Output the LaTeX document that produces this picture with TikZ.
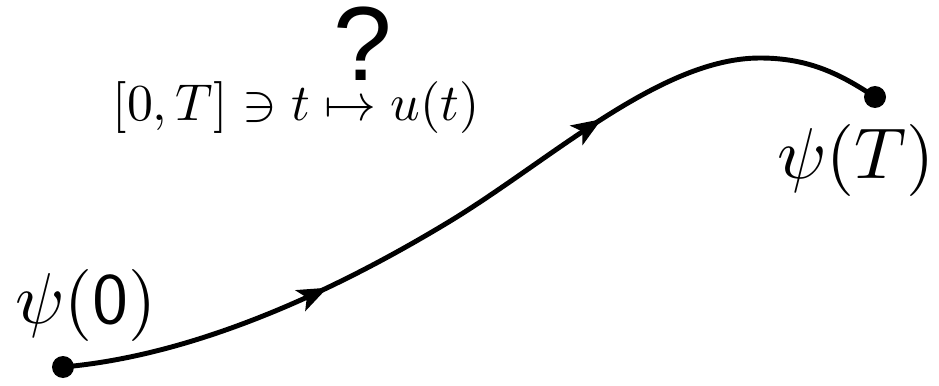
\documentclass[tikz,border=0pt]{standalone}
\usepackage{fontspec}
\newfontfamily\qfont{Liberation Sans}
\usetikzlibrary{arrows.meta,decorations.markings}
\begin{document}
\begin{tikzpicture}[>=Stealth,
  dot/.style={circle, fill, inner sep=0pt, minimum size=0.44cm},
  lbl/.style={scale=4.1, inner sep=0pt},
  traj/.style={line width=2.8pt, postaction={decorate},
    decoration={markings,
      mark=at position 0.31 with {\arrow{Stealth[length=17pt,width=13pt,inset=4pt]}},
      mark=at position 0.67 with {\arrow{Stealth[length=17pt,width=13pt,inset=4pt]}}}}]
\useasboundingbox (0,0) rectangle (18.78,7.70);
\node[dot] (start) at (1.26, 0.36) {};
\node[dot] (end) at (17.5, 5.76) {};
\coordinate (bend) at (8.94, 3.24);
\coordinate (top) at (15.2, 6.54);
\node[lbl] (psi0) at (1.72, 1.60) {$\psi(\mbox{\sffamily 0})$};
\node[lbl] (psiT) at (17.12, 4.50) {$\psi(T)$};
\node[scale=2.95, inner sep=0pt] (ctrl) at (5.92, 5.54) {$[0,T]\ni t\mapsto u(t)$};
\node[inner sep=0pt, font=\qfont\fontsize{60}{64}\selectfont] (quest) at (7.26, 6.82) {?};
% trajectory
\draw[traj] (start.center) .. controls (4.25,0.62) and (7.23,2.21) .. (bend)
  .. controls (11.0,4.48) and (13.2,6.54) .. (top)
  .. controls (16.2,6.54) and (16.83,6.2) .. (end.center);
\end{tikzpicture}
\end{document}
